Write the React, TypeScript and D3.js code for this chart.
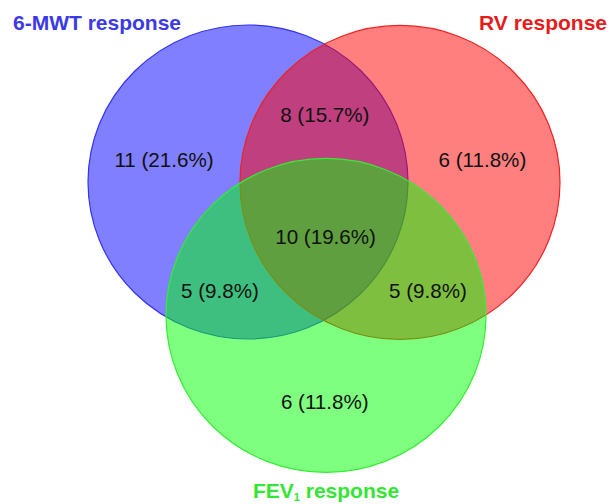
import * as d3 from 'd3';
import { useEffect, useRef } from 'react';

// 三個集合
const setNames = ['6-MWT', 'RV', 'FEV'];
const setFills = ['#0000ff', '#ff0000', '#00ff00'];
const setStrokes = ['#3333ee', '#ee2222', '#33ee33'];
const setTitleColors = ['#3a3ae6', '#e61c1c', '#33e633'];

// 各區域人數
const regionNames = ['6-MWT only', 'RV only', 'FEV1 only', '6-MWT & RV', '6-MWT & FEV1', 'RV & FEV1', 'all three'];
const regionCounts = [11, 6, 6, 8, 5, 5, 10];

export default function App() {
    const chartRef = useRef<SVGSVGElement | null>(null);

    useEffect(() => {
        if (!chartRef.current) return;
        const svg = d3.select(chartRef.current);
        svg.selectAll('*').remove();

        const width = 610;
        const height = 504;
        const total = d3.sum(regionCounts);
        const pct = d3.format('.1f');

        // 以半徑為單位的版面座標
        const x = d3.scaleLinear().domain([0, 1]).range([248, 408]);
        const y = d3.scaleLinear().domain([0, 1]).range([182, 339]);

        const circles = [
            { cx: 0, cy: 0 },
            { cx: 0.95, cy: 0.003 },
            { cx: 0.4875, cy: 0.85 },
        ];

        const labelPos = [
            { x: -0.525, y: -0.14 },
            { x: 1.465, y: -0.14 },
            { x: 0.48, y: 1.4 },
            { x: 0.48, y: -0.43 },
            { x: -0.175, y: 0.695 },
            { x: 1.125, y: 0.695 },
            { x: 0.485, y: 0.35 },
        ];

        svg.attr('viewBox', `0 0 ${width} ${height}`);

        svg.append('g')
            .selectAll('ellipse')
            .data(circles)
            .join('ellipse')
            .attr('cx', (d) => x(d.cx))
            .attr('cy', (d) => y(d.cy))
            .attr('rx', x(1) - x(0))
            .attr('ry', y(1) - y(0))
            .attr('fill', (_, i) => setFills[i])
            .attr('fill-opacity', 0.5)
            .attr('stroke', (_, i) => setStrokes[i])
            .attr('stroke-width', 1.2);

        // 區域標籤
        svg.append('g')
            .selectAll('text')
            .data(regionCounts)
            .join('text')
            .attr('x', (_, i) => x(labelPos[i].x))
            .attr('y', (_, i) => y(labelPos[i].y))
            .attr('dy', '0.35em')
            .attr('text-anchor', 'middle')
            .attr('font-family', '"Liberation Sans", Arial, sans-serif')
            .attr('font-size', 20.6)
            .attr('fill', '#111')
            .attr('data-region', (_, i) => regionNames[i])
            .text((d) => `${d} (${pct((d / total) * 100)}%)`);

        const titles = svg
            .append('g')
            .attr('font-family', '"Liberation Sans", Arial, sans-serif')
            .attr('font-size', 21)
            .attr('font-weight', 'bold');

        titles.append('text')
            .attr('x', 13)
            .attr('y', 30)
            .attr('fill', setTitleColors[0])
            .text(`${setNames[0]} response`);

        titles.append('text')
            .attr('x', 607)
            .attr('y', 30)
            .attr('text-anchor', 'end')
            .attr('fill', setTitleColors[1])
            .text(`${setNames[1]} response`);

        const fev = titles.append('text')
            .attr('x', 326)
            .attr('y', 498)
            .attr('text-anchor', 'middle')
            .attr('fill', setTitleColors[2]);
        fev.append('tspan').text(setNames[2]);
        fev.append('tspan').attr('font-size', 11).attr('dy', 3).text('1');
        fev.append('tspan').attr('dy', -3).text(' response');
    }, []);

    return (
        <svg
            ref={chartRef}
            width={610}
            height={504}
            style={{ position: 'absolute', left: 0, top: 0, display: 'block' }}
        />
    );
}
